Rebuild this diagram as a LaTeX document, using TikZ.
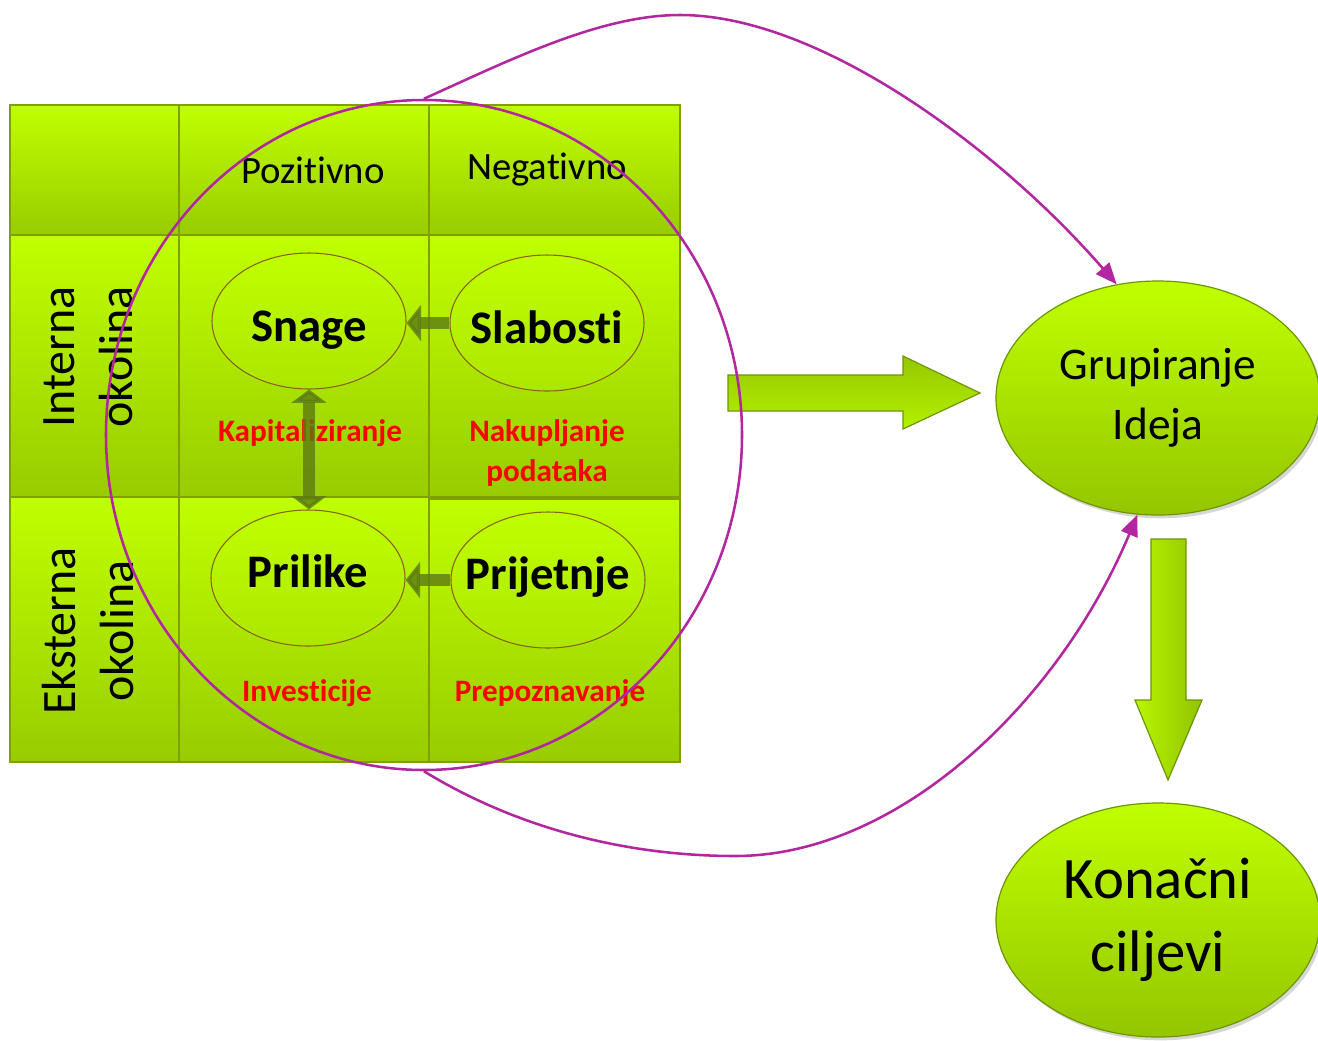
\documentclass[tikz,border=0pt]{standalone}
\usepackage{fontspec}
\setmainfont[Ligatures={NoCommon,NoContextual}]{Carlito}
\usetikzlibrary{arrows.meta,shapes.geometric,shadows}
\definecolor{limeA}{RGB}{192,255,0}
\definecolor{limeB}{RGB}{152,204,0}
\definecolor{limeC}{RGB}{172,230,0}
\definecolor{cellline}{RGB}{128,160,0}
\definecolor{purp}{RGB}{178,38,160}
\definecolor{olivearr}{RGB}{92,122,18}
\definecolor{ringbrown}{RGB}{135,100,25}
\definecolor{bigline}{RGB}{110,150,0}
\definecolor{redtxt}{RGB}{255,0,0}
\tikzset{
  cellbox/.style={draw=cellline, line width=0.9pt, top color=limeA, bottom color=limeB},
  hdr/.style={font=\fontsize{29}{35}\selectfont, inner sep=0},
  rotlbl/.style={rotate=90, align=center, font=\fontsize{36}{43.5}\selectfont, inner sep=0},
  swot/.style={ellipse, draw=ringbrown, line width=0.8pt, top color=limeA, bottom color=limeC,
    minimum width=145.5pt, minimum height=102pt, inner ysep=0pt, inner xsep=-40pt, text depth=0pt,
    font=\bfseries\fontsize{35}{42}\selectfont},
  toprow/.style={text height=30pt},
  botrow/.style={text height=14pt},
  redlbl/.style={text=redtxt, align=center, inner sep=0, font=\bfseries\fontsize{23.4}{30}\selectfont},
  inarrow/.style={draw=olivearr, line width=9.5pt, opacity=0.8},
  purpline/.style={draw=purp, line width=1.9pt},
  bigell/.style={ellipse, draw=bigline, line width=0.9pt, top color=limeA, bottom color={rgb,255:red,148;green,198;blue,0},
    minimum width=243pt, minimum height=175.5pt, inner sep=0, align=center,
    drop shadow={shadow xshift=2pt, shadow yshift=-2.5pt, fill=black!35, opacity=0.45}},
  bigarrow/.style={draw=bigline, line width=0.9pt}
}
\begin{document}
\begin{tikzpicture}[x=0.75pt,y=-0.75pt]
\useasboundingbox[fill=white] (0,0) rectangle (1318,1040);

% grid cells
\path[cellbox] (10,105) rectangle (179,235);
\path[cellbox] (179,105) rectangle (429,235);
\path[cellbox] (429,105) rectangle (680,235);
\path[cellbox] (10,235) rectangle (179,497);
\path[cellbox] (179,235) rectangle (429,497);
\path[cellbox] (429,235) rectangle (680,497);
\path[cellbox] (10,497) rectangle (179,762);
\path[cellbox] (179,497) rectangle (429,762);
\path[cellbox] (429,499) rectangle (680,762);

% headers
\node[hdr] (pos) at (313,170) {Pozitivno};
\node[hdr] (neg) at (547,170) {Negativno};
\node[rotlbl] (int) at (88,357) {Interna\\okolina};
\node[rotlbl] (ext) at (88,631) {Eksterna\\okolina};

% SWOT ellipses
\node[swot, toprow] (snage) at (309,321) {Snage};
\node[swot, toprow] (slab) at (547,323) {Slabosti};
\node[swot, botrow] (pril) at (308,578) {Prilike};
\node[swot, botrow] (prij) at (548,580) {Prijetnje};

% red labels
\node[redlbl] (kap) at (310,433) {Kapitaliziranje};
\node[redlbl] (nak) at (547,453) {Nakupljanje\\podataka};
\node[redlbl] (inv) at (307,693) {Investicije};
\node[redlbl] (prep) at (550,693) {Prepoznavanje};

% inner arrows
\draw[inarrow, -{Triangle[width=27pt,length=11pt]}] (slab.west) -- (slab.west -| snage.east);
\draw[inarrow, -{Triangle[width=27pt,length=11pt]}] (prij.west) -- (prij.west -| pril.east);
\draw[inarrow, line width=9pt, {Triangle[width=26pt,length=10pt]}-{Triangle[width=26pt,length=10pt]}] (snage.south) -- (snage.south |- pril.north);

% big target ellipses
\node[bigell, font=\fontsize{34}{45}\selectfont] (grup) at (1158,398) {Grupiranje\\Ideja};
\node[bigell, font=\fontsize{44}{55}\selectfont] (kon) at (1158,920) {Konačni\\ciljevi};

% big block arrows
\path[bigarrow, top color={rgb,255:red,150;green,200;blue,0}, bottom color={rgb,255:red,180;green,240;blue,0}]
  (728,375) -- (903,375) -- (903,356) -- (980,393) -- (903,429) -- (903,411) -- (728,411) -- cycle;
\path[bigarrow, left color={rgb,255:red,185;green,245;blue,0}, right color={rgb,255:red,145;green,195;blue,0}]
  (1151,539) -- (1186,539) -- (1186,700) -- (1202,700) -- (1168,780) -- (1135,700) -- (1151,700) -- cycle;

% purple circle and curves
\node[purpline, ellipse, minimum width=477pt, minimum height=502.5pt, inner sep=0] (circ) at (424,435) {};
\draw[purpline, -{Triangle[width=13pt,length=16pt]}]
  (circ.north) .. controls (510,60) and (600,15) .. (680,15)
  .. controls (820,15) and (1000,150) .. (grup.110);
\draw[purpline, -{Triangle[width=13pt,length=16pt]}]
  (circ.south) .. controls (520,830) and (630,856) .. (735,856)
  .. controls (900,856) and (1060,700) .. (grup.260);
\end{tikzpicture}
\end{document}
